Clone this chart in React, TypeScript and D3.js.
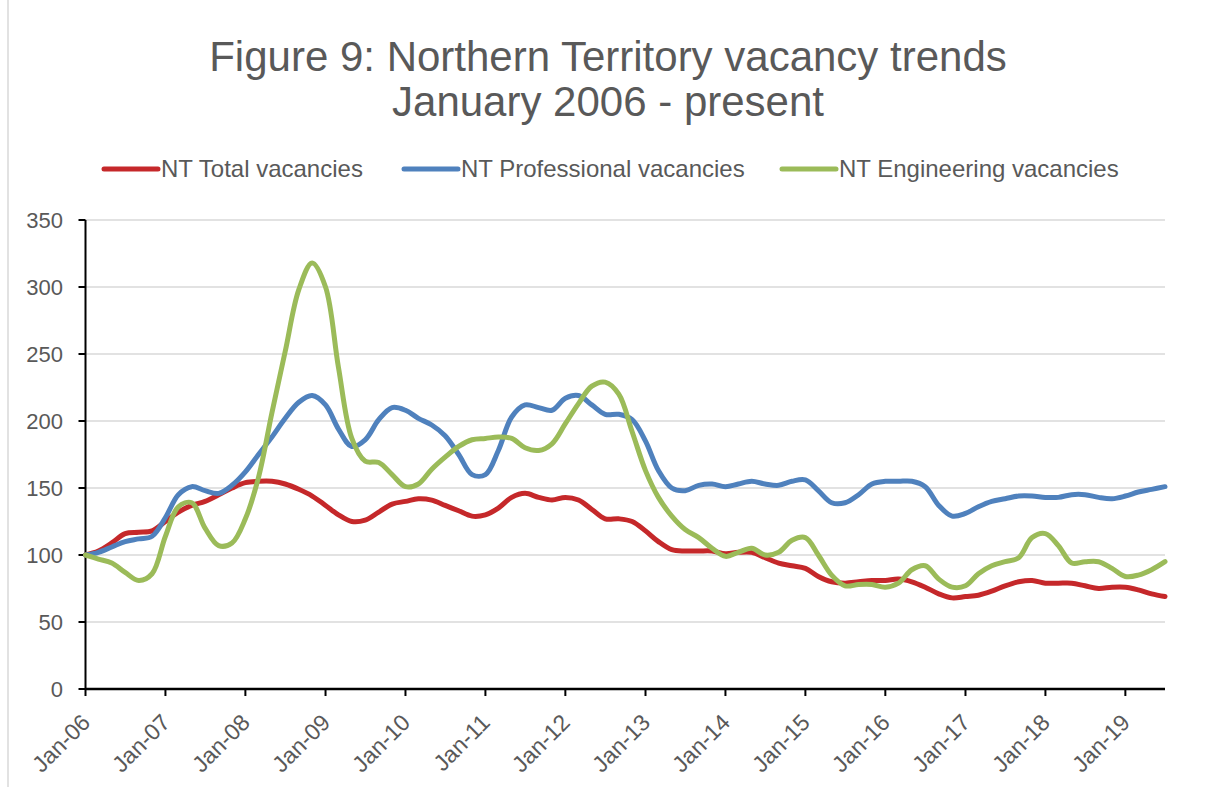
import React, { useEffect } from "react";
import * as d3 from "d3";

// chart values, one value every two months Jan-06 .. Jul-19
const startDate = new Date(2006, 0, 1);
const endDate = new Date(2019, 6, 1);
const dates = d3.timeMonth.every(2)!.range(startDate, new Date(2019, 7, 1));

const totalVacancies = [
  100, 103, 109, 116, 117, 118, 125, 132, 137, 140, 145, 150, 154, 155, 155, 153, 149, 144, 137, 130,
  125, 126, 132, 138, 140, 142, 141, 137, 133, 129, 130, 135, 143, 146, 143, 141, 143, 141, 134, 127,
  127, 125, 118, 110, 104, 103, 103, 103, 101, 102, 102, 98, 94, 92, 90, 84, 80, 79, 80, 81,
  81, 82, 80, 76, 71, 68, 69, 70, 73, 77, 80, 81, 79, 79, 79, 77, 75, 76, 76, 74,
  71, 69,
];

const professionalVacancies = [
  100, 102, 106, 110, 112, 114, 128, 145, 151, 148, 146, 152, 162, 175, 188, 202, 214, 219, 212, 194,
  181, 186, 201, 210, 208, 202, 197, 189, 175, 160, 160, 178, 203, 212, 210, 208, 217, 219, 212, 205,
  205, 201, 185, 163, 150, 148, 152, 153, 151, 153, 155, 153, 152, 155, 156, 148, 139, 139, 145, 153,
  155, 155, 155, 151, 137, 129, 131, 136, 140, 142, 144, 144, 143, 143, 145, 145, 143, 142, 144, 147,
  149, 151,
];

const engineeringVacancies = [
  100, 97, 94, 87, 81, 86, 114, 136, 139, 120, 107, 109, 127, 158, 206, 252, 298, 318, 300, 240,
  187, 170, 169, 160, 151, 153, 164, 173, 181, 186, 187, 188, 187, 180, 178, 183, 198, 213, 226, 229,
  220, 192, 163, 143, 129, 119, 113, 105, 99, 102, 105, 100, 102, 111, 113, 100, 85, 77, 78, 78,
  76, 79, 89, 92, 82, 76, 77, 86, 92, 95, 98, 113, 116, 107, 94, 95, 95, 90, 84, 85,
  89, 95,
];

const seriesNames = ["NT Total vacancies", "NT Professional vacancies", "NT Engineering vacancies"];
const seriesColors = ["#C5282A", "#4F81BD", "#9BBB59"];
const seriesValues = [totalVacancies, professionalVacancies, engineeringVacancies];

const yTicks = [0, 50, 100, 150, 200, 250, 300, 350];
const xTickLabels = [
  "Jan-06", "Jan-07", "Jan-08", "Jan-09", "Jan-10", "Jan-11", "Jan-12",
  "Jan-13", "Jan-14", "Jan-15", "Jan-16", "Jan-17", "Jan-18", "Jan-19",
];
const xTickDates = d3.range(2006, 2020).map((yr) => new Date(yr, 0, 1));

const W = 1206;
const H = 787;
const margin = { top: 220, right: 41, bottom: 98, left: 85.5 };
const font = "'Liberation Sans', Arial, sans-serif";
const textColor = "#595959";

export default function App() {
  useEffect(() => {
    document.body.style.margin = "0";
  }, []);

  const x = d3
    .scaleTime()
    .domain([startDate, endDate])
    .range([margin.left, W - margin.right]);

  const y = d3
    .scaleLinear()
    .domain([0, 350])
    .range([H - margin.bottom, margin.top]);

  const line = d3
    .line<number>()
    .x((_, i) => x(dates[i]))
    .y((d) => y(d))
    .curve(d3.curveCatmullRom.alpha(0.5));

  const legendX = [104, 404, 782];

  return (
    <svg width={W} height={H} style={{ display: "block", background: "#fff" }} fontFamily={font}>
      {/* outer border */}
      <line x1={8} x2={8} y1={0} y2={H} stroke="#D9D9D9" strokeWidth={1.5} />

      {/* title */}
      <text x={608} y={71} textAnchor="middle" fontSize={42} fill={textColor}>
        Figure 9: Northern Territory vacancy trends
      </text>
      <text x={608} y={116} textAnchor="middle" fontSize={42} fill={textColor}>
        January 2006 - present
      </text>

      {/* legend */}
      {seriesNames.map((name, i) => (
        <g key={name}>
          <line
            x1={legendX[i]}
            x2={legendX[i] + 54}
            y1={169}
            y2={169}
            stroke={seriesColors[i]}
            strokeWidth={5}
            strokeLinecap="round"
          />
          <text x={legendX[i] + 57} y={177} fontSize={24} fill={textColor}>
            {name}
          </text>
        </g>
      ))}

      {/* gridlines */}
      {yTicks.slice(1).map((t) => (
        <line
          key={t}
          x1={margin.left}
          x2={W - margin.right}
          y1={y(t)}
          y2={y(t)}
          stroke="#D9D9D9"
          strokeWidth={1.5}
        />
      ))}

      {/* y axis */}
      <line x1={margin.left} x2={margin.left} y1={y(350)} y2={y(0)} stroke="#000" strokeWidth={2} />
      {yTicks.map((t) => (
        <g key={t}>
          <line x1={margin.left - 7} x2={margin.left} y1={y(t)} y2={y(t)} stroke="#000" strokeWidth={2} />
          <text x={63} y={y(t) + 8} textAnchor="end" fontSize={22} fill={textColor}>
            {t}
          </text>
        </g>
      ))}

      {/* series */}
      {seriesValues.map((vals, i) => (
        <path
          key={seriesNames[i]}
          d={line(vals) ?? ""}
          fill="none"
          stroke={seriesColors[i]}
          strokeWidth={5}
          strokeLinejoin="round"
          strokeLinecap="round"
        />
      ))}

      {/* x axis */}
      <line x1={margin.left} x2={W - margin.right} y1={y(0)} y2={y(0)} stroke="#000" strokeWidth={2.5} />
      {xTickDates.map((d, i) => (
        <g key={xTickLabels[i]}>
          <line x1={x(d)} x2={x(d)} y1={y(0)} y2={y(0) + 7} stroke="#000" strokeWidth={2} />
          <text
            transform={`translate(${x(d) + 6},${y(0) + 35}) rotate(-45)`}
            textAnchor="end"
            fontSize={23}
            fill={textColor}
          >
            {xTickLabels[i]}
          </text>
        </g>
      ))}
    </svg>
  );
}
